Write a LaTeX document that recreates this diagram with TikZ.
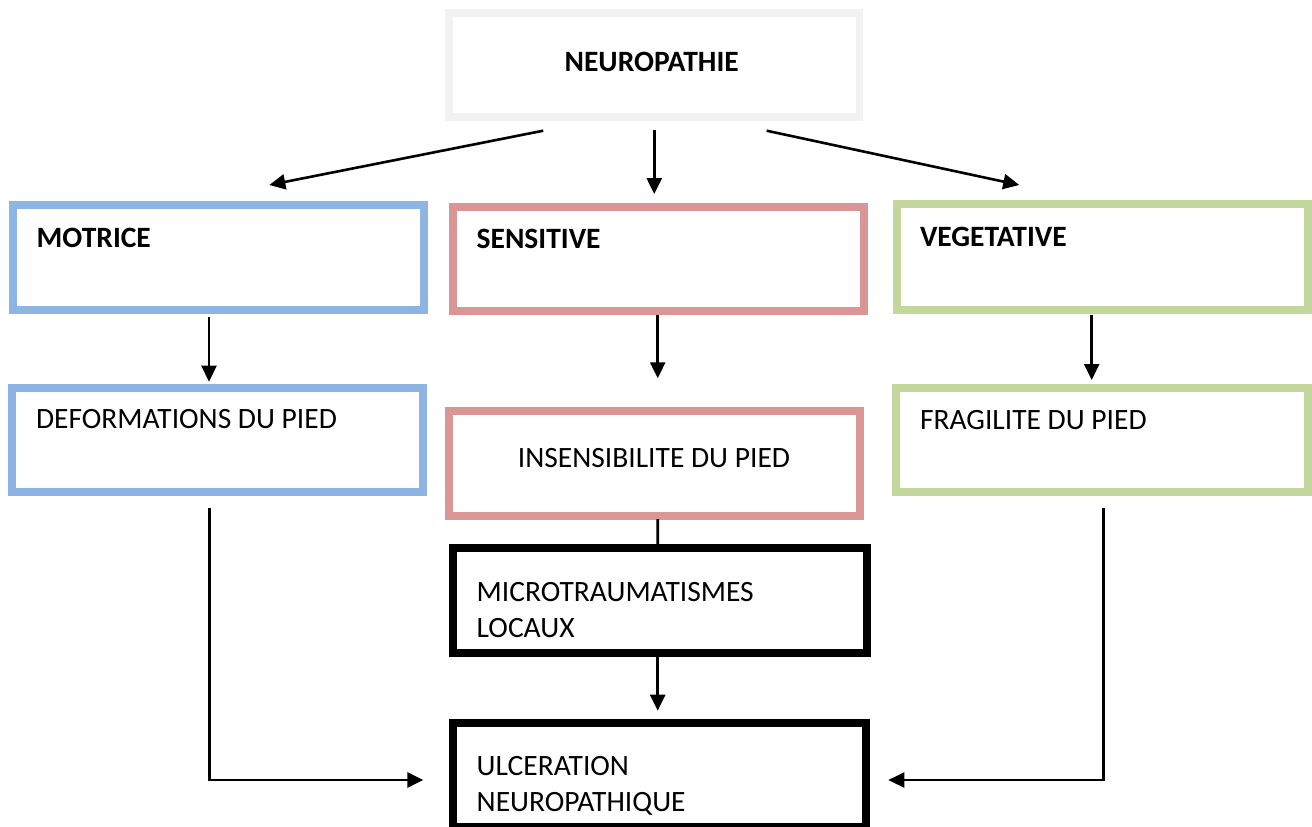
\documentclass[tikz,border=0pt]{standalone}
\usepackage{fontspec}
\setmainfont{Carlito}
\usetikzlibrary{arrows.meta,calc}
\definecolor{cgray}{HTML}{F2F2F2}
\definecolor{cblue}{HTML}{8DB4E2}
\definecolor{cpink}{HTML}{D99694}
\definecolor{cgreen}{HTML}{C3D69B}
\begin{document}
\begin{tikzpicture}[x=1pt,y=-1pt,
  box/.style={draw,line width=8pt,rectangle,inner sep=0pt,outer sep=0pt},
  txt/.style={inner sep=0pt,outer sep=0pt,font=\fontsize{29.5}{36.5}\selectfont,align=left},
  btxt/.style={txt,font=\fontsize{29.5}{36.5}\selectfont\bfseries},
  arr/.style={line width=2.6pt,-{Triangle[length=16pt,width=15pt]}},
  ln/.style={line width=2.6pt}]
\useasboundingbox[fill=white] (0,0) rectangle (1312,827);
% boxes
\node[box,draw=cgray,line width=7.7pt,minimum width=410.5pt,minimum height=104pt] (neur) at (654.25,65) {};
\node[box,draw=cblue,minimum width=411pt,minimum height=104.5pt] (mot) at (218,257.25) {};
\node[box,draw=cpink,minimum width=411pt,minimum height=104.5pt] (sens) at (658.5,258.75) {};
\node[box,draw=cgreen,minimum width=411.5pt,minimum height=105.5pt] (veg) at (1102.25,256.75) {};
\node[box,draw=cblue,minimum width=410.5pt,minimum height=104.5pt] (def) at (217.25,439.75) {};
\node[box,draw=cpink,minimum width=410.7pt,minimum height=104.5pt] (ins) at (654.35,463.25) {};
\node[box,draw=cgreen,minimum width=412pt,minimum height=104.5pt] (frag) at (1102,439.75) {};
\node[box,draw=black,minimum width=414pt,minimum height=104.7pt] (micro) at (660,600.65) {};
\node[box,draw=black,minimum width=413.8pt,minimum height=104.5pt] (ulc) at (659.4,774.75) {};
% texts
\node[btxt,anchor=base] (neurT) at (651.7,71) {NEUROPATHIE};
\node[btxt,anchor=base west] (motT) at (36.7,247) {MOTRICE};
\node[btxt,anchor=base west] (sensT) at (476.7,248.3) {SENSITIVE};
\node[btxt,anchor=base west] (vegT) at (920,246) {VEGETATIVE};
\node[txt,anchor=base west] (defT) at (36,428) {DEFORMATIONS DU PIED};
\node[txt,anchor=base] (insT) at (654,467.3) {INSENSIBILITE DU PIED};
\node[txt,anchor=base west] (fragT) at (920,429) {FRAGILITE DU PIED};
\node[txt,anchor=base west] (microT) at (476.7,637.7) {MICROTRAUMATISMES\\LOCAUX};
\node[txt,anchor=base west] (ulcT) at (476.7,811.7) {ULCERATION\\NEUROPATHIQUE};
% connectors
\draw[arr] ($(neur.south)+(-111,13.7)$) -- ($(mot.north)+(51.3,-20)$);
\draw[arr] ($(neur.south)+(0,13)$) -- ($(neur.south)+(0,77)$);
\draw[arr] ($(neur.south)+(112.4,13.7)$) -- ($(veg.north)+(-83,-19)$);
\draw[arr] ($(mot.south)+(-9,7.2)$) -- ($(def.north)+(-8.25,-5.8)$);
\draw[arr] ($(sens.south)+(-0.8,4)$) -- ($(sens.south)+(-0.8,67.3)$);
\draw[arr] ($(veg.south)+(-10.55,5.5)$) -- ($(frag.north)+(-10.3,-7.5)$);
\draw[ln] ($(ins.south)+(3.35,3.5)$) -- ($(micro.north)+(-2.3,-4.3)$);
\draw[arr] ($(micro.south)+(-2.3,3.7)$) -- ($(ulc.north)+(-1.7,-11.8)$);
\draw[arr] ($(def.south)+(-7.95,16.3)$) |- ($(ulc.west)+(-29.2,5.25)$);
\draw[arr] ($(frag.south)+(1.3,16.3)$) |- ($(ulc.east)+(22,5.25)$);
\end{tikzpicture}
\end{document}
